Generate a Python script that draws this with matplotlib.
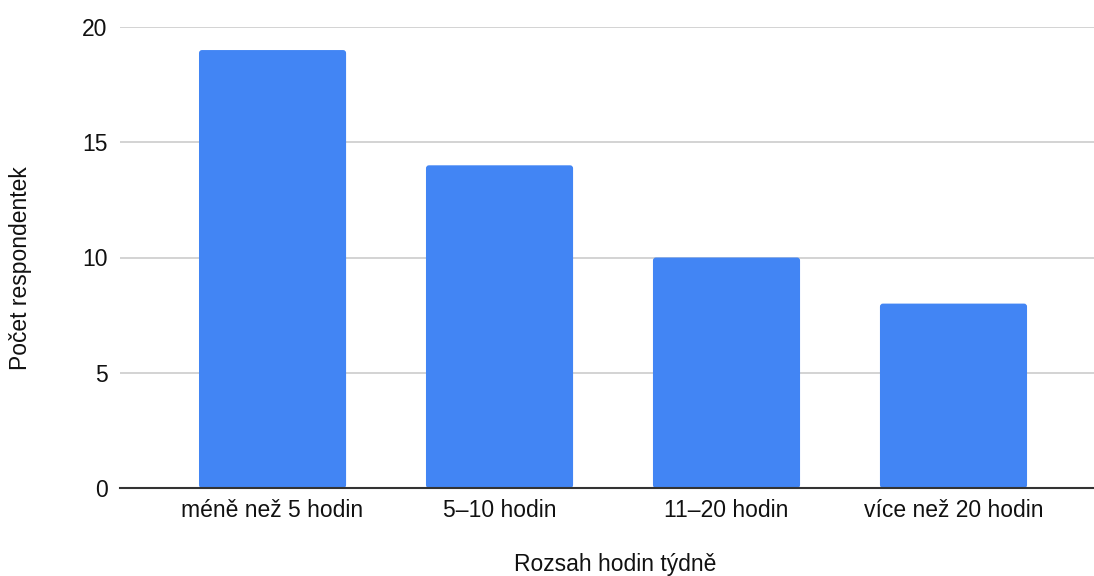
import matplotlib
matplotlib.use("Agg")
import matplotlib.pyplot as plt
from matplotlib.patches import FancyBboxPatch

categories = ["méně než 5 hodin", "5–10 hodin", "11–20 hodin", "více než 20 hodin"]
values = [19, 14, 10, 8]
yticks = [0, 5, 10, 15, 20]

plt.rcParams['font.family'] = ['Liberation Sans', 'DejaVu Sans']

fig = plt.figure(figsize=(10.94, 5.76), dpi=100)
ax = fig.add_axes([120/1094, 88/576, 1 - 120/1094, (488-27)/576])

x = list(range(len(categories)))
bars = ax.bar(x, values, width=0.648, color="#4285F4", zorder=3)
ax.set_xlim(-0.672, 3.619)
ax.set_ylim(0, 20)

# rounded top corners
xpp = (3.619 + 0.672) / 974.0
ypp = 20.0 / 461.0
for b in bars:
    bx, by, bw, bh = b.get_x(), b.get_y(), b.get_width(), b.get_height()
    b.set_visible(False)
    p = FancyBboxPatch((bx, by), bw, bh,
                       boxstyle="round,pad=0,rounding_size=%f" % (3 * xpp),
                       mutation_aspect=ypp / xpp,
                       facecolor="#4285F4", edgecolor="none", zorder=3)
    ax.add_patch(p)

ax.set_yticks(yticks)
ax.set_yticklabels([str(v) for v in yticks], fontsize=16.5, color="#111111")
ax.set_xticks(x)
ax.set_xticklabels(categories, fontsize=16.5, color="#111111")
ax.tick_params(axis='both', length=0)
ax.tick_params(axis='y', pad=9)
ax.tick_params(axis='x', pad=8)

ax.grid(axis='y', color="#cccccc", linewidth=1.2, zorder=0)
for s in ["top", "right", "left"]:
    ax.spines[s].set_visible(False)
ax.spines["bottom"].set_color("#333333")
ax.spines["bottom"].set_linewidth(1.5)
ax.spines["bottom"].set_zorder(4)

fig.text(615/1094, 1 - 565/576, "Rozsah hodin týdně", ha="center", va="center", fontsize=16.5, color="#111111")
fig.text(21/1094, 1 - 268/576, "Počet respondentek", ha="center", va="center", rotation=90, fontsize=16.5, color="#111111")

fig.savefig("out.png", dpi=100)
